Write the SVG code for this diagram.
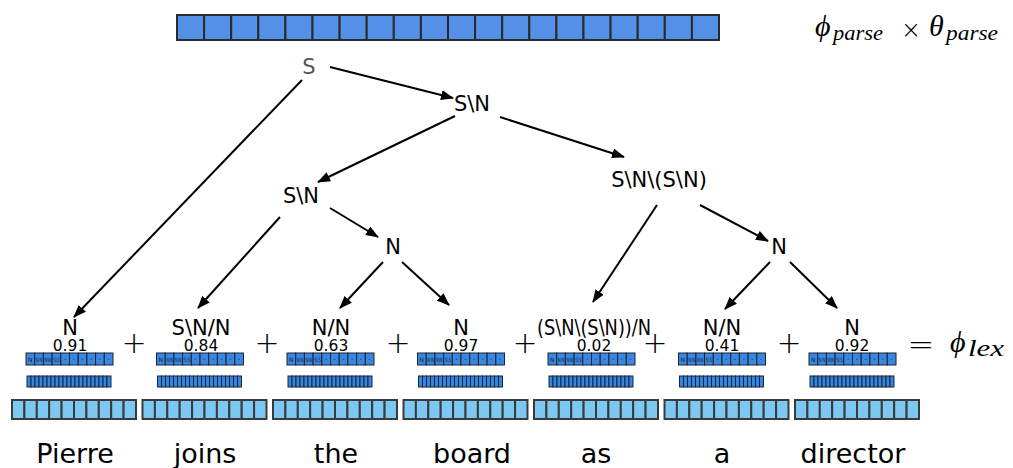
<svg xmlns="http://www.w3.org/2000/svg" xmlns:xlink="http://www.w3.org/1999/xlink" width="1013" height="468" viewBox="0 0 1013 468">
<style>
.lbl{font-family:"DejaVu Sans",sans-serif;fill:#000;text-anchor:middle}
.node{font-size:21px}
.cat{font-size:21px}
.score{font-size:15.5px}
.word{font-size:27px}
.math{font-family:"Liberation Serif","DejaVu Serif",serif;font-style:italic;fill:#000}
.op{font-family:"DejaVu Sans",sans-serif;fill:#000;text-anchor:middle;font-weight:200}
.top{fill:#5590e8;stroke:#2a2a2a;stroke-width:2}
.sc{fill:#3a87e2;stroke:#1c2430;stroke-width:1}
.st{font-family:"DejaVu Sans",sans-serif;font-size:6px;fill:#0c1a33;text-anchor:middle}
.mc{fill:#2f86e6;stroke:#1c2430;stroke-width:1}
.lc{fill:#7cc8f2;stroke:#3a3a3a;stroke-width:2}
.edge{stroke:#000;stroke-width:2;fill:none;marker-end:url(#ah)}
</style>
<defs>
<marker id="ah" markerUnits="userSpaceOnUse" markerWidth="13" markerHeight="10" refX="12" refY="5" orient="auto">
<path d="M0,0 L13,5 L0,10 z" fill="#000"/>
</marker>
<g id="sb">
<rect class="sc" x="0" y="0" width="8.7" height="12"/>
<rect class="sc" x="8.7" y="0" width="8.7" height="12"/>
<rect class="sc" x="17.4" y="0" width="8.7" height="12"/>
<rect class="sc" x="26.1" y="0" width="8.7" height="12"/>
<rect class="sc" x="34.8" y="0" width="8.7" height="12"/>
<rect class="sc" x="43.5" y="0" width="8.7" height="12"/>
<rect class="sc" x="52.2" y="0" width="8.7" height="12"/>
<rect class="sc" x="60.9" y="0" width="8.7" height="12"/>
<rect class="sc" x="69.6" y="0" width="8.7" height="12"/>
<rect class="sc" x="78.3" y="0" width="8.7" height="12"/>
<text class="st" x="4.35" y="8.5" textLength="4.5" lengthAdjust="spacingAndGlyphs">N</text>
<text class="st" x="13.05" y="8.5" textLength="6.6" lengthAdjust="spacingAndGlyphs">N/N</text>
<text class="st" x="21.75" y="8.5" textLength="6.6" lengthAdjust="spacingAndGlyphs">N\N</text>
<text class="st" x="30.45" y="8.5" textLength="6.6" lengthAdjust="spacingAndGlyphs">S\S</text>
<text class="st" x="39.15" y="8">-</text>
<text class="st" x="47.85" y="8">-</text>
<text class="st" x="56.55" y="8">-</text>
<text class="st" x="65.25" y="8">-</text>
<text class="st" x="73.95" y="8">-</text>
<text class="st" x="82.65" y="8">-</text>
</g>
<g id="mb">
<rect x="0" y="0" width="84" height="11" fill="#1c2430"/>
<rect class="mc" x="0" y="0" width="4" height="11"/>
<rect class="mc" x="4" y="0" width="4" height="11"/>
<rect class="mc" x="8" y="0" width="4" height="11"/>
<rect class="mc" x="12" y="0" width="4" height="11"/>
<rect class="mc" x="16" y="0" width="4" height="11"/>
<rect class="mc" x="20" y="0" width="4" height="11"/>
<rect class="mc" x="24" y="0" width="4" height="11"/>
<rect class="mc" x="28" y="0" width="4" height="11"/>
<rect class="mc" x="32" y="0" width="4" height="11"/>
<rect class="mc" x="36" y="0" width="4" height="11"/>
<rect class="mc" x="40" y="0" width="4" height="11"/>
<rect class="mc" x="44" y="0" width="4" height="11"/>
<rect class="mc" x="48" y="0" width="4" height="11"/>
<rect class="mc" x="52" y="0" width="4" height="11"/>
<rect class="mc" x="56" y="0" width="4" height="11"/>
<rect class="mc" x="60" y="0" width="4" height="11"/>
<rect class="mc" x="64" y="0" width="4" height="11"/>
<rect class="mc" x="68" y="0" width="4" height="11"/>
<rect class="mc" x="72" y="0" width="4" height="11"/>
<rect class="mc" x="76" y="0" width="4" height="11"/>
<rect class="mc" x="80" y="0" width="4" height="11"/>
</g>
<g id="lb">
<rect class="lc" x="0" y="0" width="12.4" height="19"/>
<rect class="lc" x="12.4" y="0" width="12.4" height="19"/>
<rect class="lc" x="24.8" y="0" width="12.4" height="19"/>
<rect class="lc" x="37.2" y="0" width="12.4" height="19"/>
<rect class="lc" x="49.6" y="0" width="12.4" height="19"/>
<rect class="lc" x="62" y="0" width="12.4" height="19"/>
<rect class="lc" x="74.4" y="0" width="12.4" height="19"/>
<rect class="lc" x="86.8" y="0" width="12.4" height="19"/>
<rect class="lc" x="99.2" y="0" width="12.4" height="19"/>
<rect class="lc" x="111.6" y="0" width="12.4" height="19"/>
</g>
</defs>
<rect width="1013" height="468" fill="#fff"/>

<g id="parse-vector">
<rect class="top" x="177" y="15" width="27.1" height="25"/>
<rect class="top" x="204.1" y="15" width="27.1" height="25"/>
<rect class="top" x="231.2" y="15" width="27.1" height="25"/>
<rect class="top" x="258.3" y="15" width="27.1" height="25"/>
<rect class="top" x="285.4" y="15" width="27.1" height="25"/>
<rect class="top" x="312.5" y="15" width="27.1" height="25"/>
<rect class="top" x="339.6" y="15" width="27.1" height="25"/>
<rect class="top" x="366.7" y="15" width="27.1" height="25"/>
<rect class="top" x="393.8" y="15" width="27.1" height="25"/>
<rect class="top" x="420.9" y="15" width="27.1" height="25"/>
<rect class="top" x="448" y="15" width="27.1" height="25"/>
<rect class="top" x="475.1" y="15" width="27.1" height="25"/>
<rect class="top" x="502.2" y="15" width="27.1" height="25"/>
<rect class="top" x="529.3" y="15" width="27.1" height="25"/>
<rect class="top" x="556.4" y="15" width="27.1" height="25"/>
<rect class="top" x="583.5" y="15" width="27.1" height="25"/>
<rect class="top" x="610.6" y="15" width="27.1" height="25"/>
<rect class="top" x="637.7" y="15" width="27.1" height="25"/>
<rect class="top" x="664.8" y="15" width="27.1" height="25"/>
<rect class="top" x="691.9" y="15" width="27.1" height="25"/>
</g>
<g id="parse-formula">
<text class="math" x="815" y="36" font-size="30">ϕ</text>
<text class="math" x="833" y="40" font-size="21" textLength="50" lengthAdjust="spacingAndGlyphs">parse</text>
<text class="op" x="911" y="38" font-size="24">×</text>
<text class="math" x="929" y="36" font-size="30">θ</text>
<text class="math" x="946" y="40" font-size="21" textLength="52" lengthAdjust="spacingAndGlyphs">parse</text>
</g>

<g id="connectors">
<line class="edge" x1="330" y1="67" x2="453" y2="98"/>
<line class="edge" x1="302" y1="80" x2="74" y2="317"/>
<line class="edge" x1="455" y1="116" x2="318" y2="182"/>
<line class="edge" x1="500" y1="117" x2="624" y2="157"/>
<line class="edge" x1="280" y1="217" x2="198" y2="308"/>
<line class="edge" x1="330" y1="208" x2="378" y2="237"/>
<line class="edge" x1="383" y1="262" x2="340" y2="308"/>
<line class="edge" x1="402" y1="262" x2="449" y2="305"/>
<line class="edge" x1="657" y1="205" x2="593" y2="302"/>
<line class="edge" x1="700" y1="205" x2="768" y2="241"/>
<line class="edge" x1="770" y1="262" x2="725" y2="309"/>
<line class="edge" x1="790" y1="262" x2="837" y2="308"/>
</g>

<g id="node-S"><text class="lbl node" x="309" y="74" style="fill:#555">S</text></g>
<g id="node-SN-top"><text class="lbl node" x="472" y="111">S\N</text></g>
<g id="node-SN-left"><text class="lbl node" x="301" y="203">S\N</text></g>
<g id="node-SNSN"><text class="lbl node" x="659" y="187">S\N\(S\N)</text></g>
<g id="node-N-left"><text class="lbl node" x="393" y="254">N</text></g>
<g id="node-N-right"><text class="lbl node" x="779" y="254">N</text></g>

<g id="col-Pierre">
<text class="lbl cat" x="70" y="335">N</text>
<text class="lbl score" x="70" y="351">0.91</text>
<use href="#sb" x="26" y="353"/><use href="#mb" x="27" y="376"/><use href="#lb" x="12" y="400"/>
<text class="lbl word" x="75" y="463">Pierre</text>
</g>
<g id="col-joins">
<text class="lbl cat" x="201" y="335">S\N/N</text>
<text class="lbl score" x="201" y="351">0.84</text>
<use href="#sb" x="156.5" y="353"/><use href="#mb" x="157.5" y="376"/><use href="#lb" x="142.5" y="400"/>
<text class="lbl word" x="205" y="463">joins</text>
</g>
<g id="col-the">
<text class="lbl cat" x="331" y="335">N/N</text>
<text class="lbl score" x="331" y="351">0.63</text>
<use href="#sb" x="287" y="353"/><use href="#mb" x="288" y="376"/><use href="#lb" x="273" y="400"/>
<text class="lbl word" x="336" y="463">the</text>
</g>
<g id="col-board">
<text class="lbl cat" x="461" y="335">N</text>
<text class="lbl score" x="461" y="351">0.97</text>
<use href="#sb" x="417.5" y="353"/><use href="#mb" x="418.5" y="376"/><use href="#lb" x="403.5" y="400"/>
<text class="lbl word" x="472" y="463">board</text>
</g>
<g id="col-as">
<text class="lbl cat" x="594" y="335" textLength="114" lengthAdjust="spacingAndGlyphs">(S\N\(S\N))/N</text>
<text class="lbl score" x="594" y="351">0.02</text>
<use href="#sb" x="548" y="353"/><use href="#mb" x="549" y="376"/><use href="#lb" x="534" y="400"/>
<text class="lbl word" x="596" y="463">as</text>
</g>
<g id="col-a">
<text class="lbl cat" x="722" y="335">N/N</text>
<text class="lbl score" x="722" y="351">0.41</text>
<use href="#sb" x="678.5" y="353"/><use href="#mb" x="679.5" y="376"/><use href="#lb" x="664.5" y="400"/>
<text class="lbl word" x="722" y="463">a</text>
</g>
<g id="col-director">
<text class="lbl cat" x="852" y="335">N</text>
<text class="lbl score" x="852" y="351">0.92</text>
<use href="#sb" x="809" y="353"/><use href="#mb" x="810" y="376"/><use href="#lb" x="795" y="400"/>
<text class="lbl word" x="853" y="463">director</text>
</g>

<g id="operators">
<text class="op" x="134" y="353" font-size="30">+</text>
<text class="op" x="267" y="353" font-size="30">+</text>
<text class="op" x="398" y="353" font-size="30">+</text>
<text class="op" x="525" y="353" font-size="30">+</text>
<text class="op" x="655" y="353" font-size="30">+</text>
<text class="op" x="789" y="353" font-size="30">+</text>
<text class="op" x="921" y="355" font-size="32">=</text>
<text class="math" x="950" y="352" font-size="30">ϕ</text>
<text class="math" x="968" y="356" font-size="23" textLength="36" lengthAdjust="spacingAndGlyphs">lex</text>
</g>
</svg>
